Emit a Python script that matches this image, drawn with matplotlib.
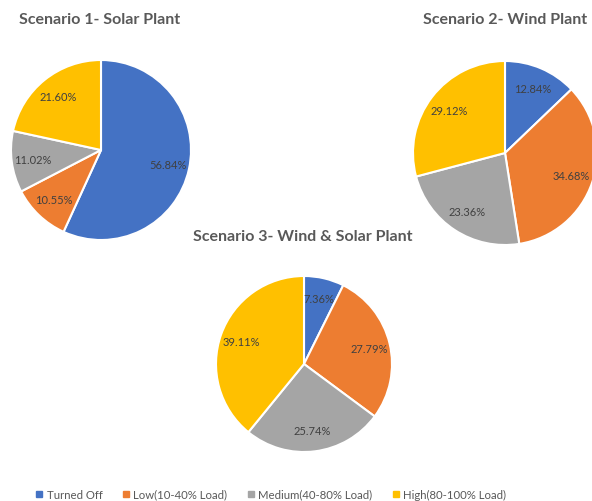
import matplotlib
matplotlib.use("Agg")
import matplotlib.pyplot as plt
from matplotlib.lines import Line2D

plt.rcParams['font.family'] = ['Lato', 'DejaVu Sans']

categories = ["Turned Off", "Low(10-40% Load)", "Medium(40-80% Load)", "High(80-100% Load)"]
colors = ["#4472C4", "#ED7D31", "#A5A5A5", "#FFC000"]

solar = [56.84, 10.55, 11.02, 21.60]
wind = [12.84, 34.68, 23.36, 29.12]
wind_solar = [7.36, 27.79, 25.74, 39.11]

titles = ["Scenario 1- Solar Plant", "Scenario 2- Wind Plant", "Scenario 3- Wind & Solar Plant"]

W, H = 592, 502
fig = plt.figure(figsize=(W / 100, H / 100), dpi=100)

# pie centre (px), radius (px), title position (px)
layout = [
    ((101, 151), 90, (100, 20)),
    ((505, 154), 92, (505, 20)),
    ((304, 365), 88, (303, 237)),
]


def draw_pie(vals, centre, r, title, tpos):
    cx, cy = centre
    ax = fig.add_axes([(cx - r) / W, (H - cy - r) / H, 2 * r / W, 2 * r / H])
    wedges, _, autotexts = ax.pie(vals, colors=colors, startangle=90, counterclock=False,
                                  autopct='%1.1f', pctdistance=0.76, radius=1.0,
                                  wedgeprops=dict(edgecolor='white', linewidth=1.5),
                                  textprops=dict(color='#404040', fontsize=8))
    for t, v in zip(autotexts, vals):
        t.set_text(f"{v:.2f}%")
    for w in wedges:
        w.set_clip_on(False)
    ax.set_xlim(-1, 1)
    ax.set_ylim(-1, 1)
    ax.set_aspect('equal')
    ax.axis('off')
    fig.text(tpos[0] / W, 1 - tpos[1] / H, title, ha='center', va='center',
             fontsize=11.5, fontweight='bold', color='#595959')


draw_pie(solar, *layout[0][:2], titles[0], layout[0][2])
draw_pie(wind, *layout[1][:2], titles[1], layout[1][2])
draw_pie(wind_solar, *layout[2][:2], titles[2], layout[2][2])

handles = [Line2D([], [], marker='s', color=c, linestyle='none', markersize=4) for c in colors]
fig.legend(handles, categories, loc='center', bbox_to_anchor=(271 / W, 1 - 495 / H), ncol=4,
           frameon=False, handlelength=0.6, handletextpad=0.35, columnspacing=1.75,
           prop=dict(size=8.2), labelcolor='#595959')

fig.savefig("out.png", dpi=100, facecolor='white')
